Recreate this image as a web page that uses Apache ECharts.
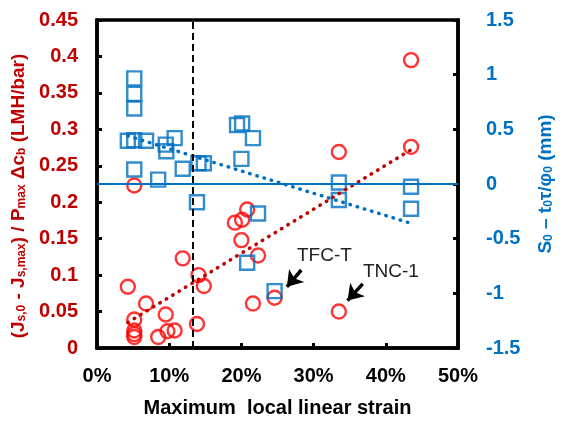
<!DOCTYPE html>
<html>
<head>
<meta charset="utf-8">
<script src="https://cdn.jsdelivr.net/npm/echarts@6/dist/echarts.min.js"></script>
<style>
  html, body { margin: 0; padding: 0; background: #fff; }
  #chart { width: 563px; height: 423px; }
</style>
</head>
<body>
<div id="chart"></div>
<script>
// 通量下降 (左轴, 红色圆圈): [应变 %, 值]
const fluxDecline = [
  [4.27, 0.084], [5.16, 0.223], [5.16, 0.039], [5.16, 0.024], [5.16, 0.019], [5.16, 0.015],
  [6.79, 0.061], [8.47, 0.015], [9.52, 0.046], [9.75, 0.023], [10.75, 0.024], [11.87, 0.123],
  [13.85, 0.033], [14.06, 0.100], [14.8, 0.085], [19.1, 0.172], [20.0, 0.148], [20.1, 0.176],
  [20.8, 0.190], [21.6, 0.061], [22.3, 0.127], [24.6, 0.069], [33.5, 0.269], [33.5, 0.050],
  [43.5, 0.395], [43.5, 0.276]
];
// S0 - t0τ/φ0 (右轴, 蓝色方块)
const structParam = [
  [5.16, 0.966], [5.16, 0.824], [5.16, 0.69], [4.27, 0.395], [5.16, 0.40], [6.79, 0.395],
  [10.75, 0.42], [9.52, 0.36], [9.6, 0.30], [11.87, 0.14], [5.16, 0.133], [8.47, 0.04],
  [14.06, 0.19], [14.8, 0.19], [19.4, 0.54], [20.1, 0.554], [21.6, 0.42], [20.0, 0.23],
  [13.85, -0.167], [22.3, -0.27], [20.8, -0.72], [24.6, -0.98], [33.5, 0.014], [33.5, -0.146],
  [43.5, -0.025], [43.5, -0.227]
];
// 趋势线端点
const redTrend = [[4.27, 0.035], [43.5, 0.272]];
const blueTrend = [[4.27, 0.44], [43.5, -0.36]];
// 临界应变竖线
const criticalStrain = 13.27;
// 标注: 文字位置与箭头(起点, 终点)
const notes = [
  { text: 'TFC-T', at: [31.5, 0.127], from: [28.3, 0.107], to: [26.3, 0.084] },
  { text: 'TNC-1', at: [40.7, 0.104], from: [36.8, 0.088], to: [34.7, 0.065] }
];

const RED = '#FF0000', DARKRED = '#C00000', BLUE = '#0070C0';
const FONT = 'Liberation Sans, Arial, sans-serif';

const chart = echarts.init(document.getElementById('chart'));

const option = {
  animation: false,
  textStyle: { fontFamily: FONT },
  grid: {
    left: 97, right: 88, top: 20, bottom: 70,
    show: true, borderColor: '#000', borderWidth: 3.5
  },
  xAxis: {
    type: 'value', min: 0, max: 50, interval: 10,
    name: 'Maximum  local linear strain',
    nameLocation: 'middle', nameGap: 50,
    nameTextStyle: { color: '#000', fontSize: 20, fontWeight: 'bold', fontFamily: FONT },
    axisLine: { lineStyle: { color: '#000', width: 3.5 } },
    axisTick: { inside: true, length: 5, lineStyle: { color: '#000', width: 3 } },
    axisLabel: { formatter: '{value}%', color: '#000', fontSize: 20, fontWeight: 'bold', margin: 18, fontFamily: FONT },
    splitLine: { show: false }
  },
  yAxis: [
    {
      type: 'value', min: 0, max: 0.45, interval: 0.05, position: 'left',
      name: '{n|(J}{s|s,0}{n| - J}{s|s,max}{n|) / P}{s|max}{n| Δc}{s|b}{n| (LMH/bar)}',
      nameLocation: 'middle', nameGap: 67, nameRotate: 90,
      nameTextStyle: {
        color: DARKRED, fontWeight: 'bold', fontFamily: FONT, padding: [0, 24, 0, 0],
        rich: {
          n: { fontSize: 19, fontWeight: 'bold', color: DARKRED, fontFamily: FONT, verticalAlign: 'bottom', lineHeight: 24 },
          s: { fontSize: 12, fontWeight: 'bold', color: DARKRED, fontFamily: FONT, verticalAlign: 'bottom', lineHeight: 18 }
        }
      },
      axisLine: { show: true, lineStyle: { color: '#000', width: 3.5 } },
      axisTick: { show: true, inside: true, length: 5, lineStyle: { color: '#000', width: 3 } },
      axisLabel: { color: DARKRED, fontSize: 20, fontWeight: 'bold', margin: 19, fontFamily: FONT },
      splitLine: { show: false }
    },
    {
      type: 'value', min: -1.5, max: 1.5, interval: 0.5, position: 'right',
      name: '{n|S}{s|0}{n| – t}{s|0}{n|τ/φ}{s|0}{n| (mm)}',
      nameLocation: 'middle', nameGap: 73, nameRotate: 90,
      nameTextStyle: {
        color: BLUE, fontWeight: 'bold', fontFamily: FONT,
        rich: {
          n: { fontSize: 19, fontWeight: 'bold', color: BLUE, fontFamily: FONT, verticalAlign: 'bottom', lineHeight: 24 },
          s: { fontSize: 12, fontWeight: 'bold', color: BLUE, fontFamily: FONT, verticalAlign: 'bottom', lineHeight: 18 }
        }
      },
      axisLine: { show: true, lineStyle: { color: '#000', width: 3.5 } },
      axisTick: { show: true, inside: true, length: 5, lineStyle: { color: '#000', width: 3 } },
      axisLabel: { color: BLUE, fontSize: 20, fontWeight: 'bold', margin: 28, fontFamily: FONT },
      splitLine: { show: false }
    }
  ],
  series: [
    {
      name: 'zero', type: 'line', yAxisIndex: 1, data: [],
      markLine: {
        silent: true, symbol: 'none', label: { show: false },
        lineStyle: { color: BLUE, width: 2, type: 'solid' },
        data: [{ yAxis: 0 }]
      }
    },
    {
      name: 'redTrend', type: 'line', yAxisIndex: 0, data: redTrend,
      showSymbol: false, symbol: 'none',
      lineStyle: { color: DARKRED, width: 3.5, type: [0.5, 7], cap: 'round' }
    },
    {
      name: 'blueTrend', type: 'line', yAxisIndex: 1, data: blueTrend,
      showSymbol: false, symbol: 'none',
      lineStyle: { color: BLUE, width: 3.5, type: [0.5, 7], cap: 'round' }
    },
    {
      name: 'flux', type: 'scatter', yAxisIndex: 0, data: fluxDecline,
      symbol: 'circle', symbolSize: 14,
      itemStyle: { color: 'rgba(0,0,0,0)', borderColor: RED, borderWidth: 2.4 },
      markLine: {
        silent: true, animation: false,
        data: [
          [
            { coord: [criticalStrain, 0], symbol: 'none', lineStyle: { color: '#000', width: 2, type: [7, 4] }, label: { show: false } },
            { coord: [criticalStrain, 0.45], symbol: 'none' }
          ]
        ].concat(notes.map(n => [
          { coord: n.from, symbol: 'none', lineStyle: { color: '#000', width: 3.5, type: 'solid' }, label: { show: false } },
          { coord: n.to, symbol: 'arrow', symbolSize: [15, 15] }
        ]))
      },
      markPoint: {
        silent: true, symbol: 'circle', symbolSize: 0,
        data: notes.map(n => ({
          coord: n.at,
          label: { show: true, position: 'inside', formatter: n.text, color: '#222', fontSize: 19, fontFamily: FONT }
        }))
      }
    },
    {
      name: 'struct', type: 'scatter', yAxisIndex: 1, data: structParam,
      symbol: 'rect', symbolSize: 14,
      itemStyle: { color: 'rgba(0,0,0,0)', borderColor: BLUE, borderWidth: 2.4 }
    }
  ]
};

chart.setOption(option);
</script>
</body>
</html>
